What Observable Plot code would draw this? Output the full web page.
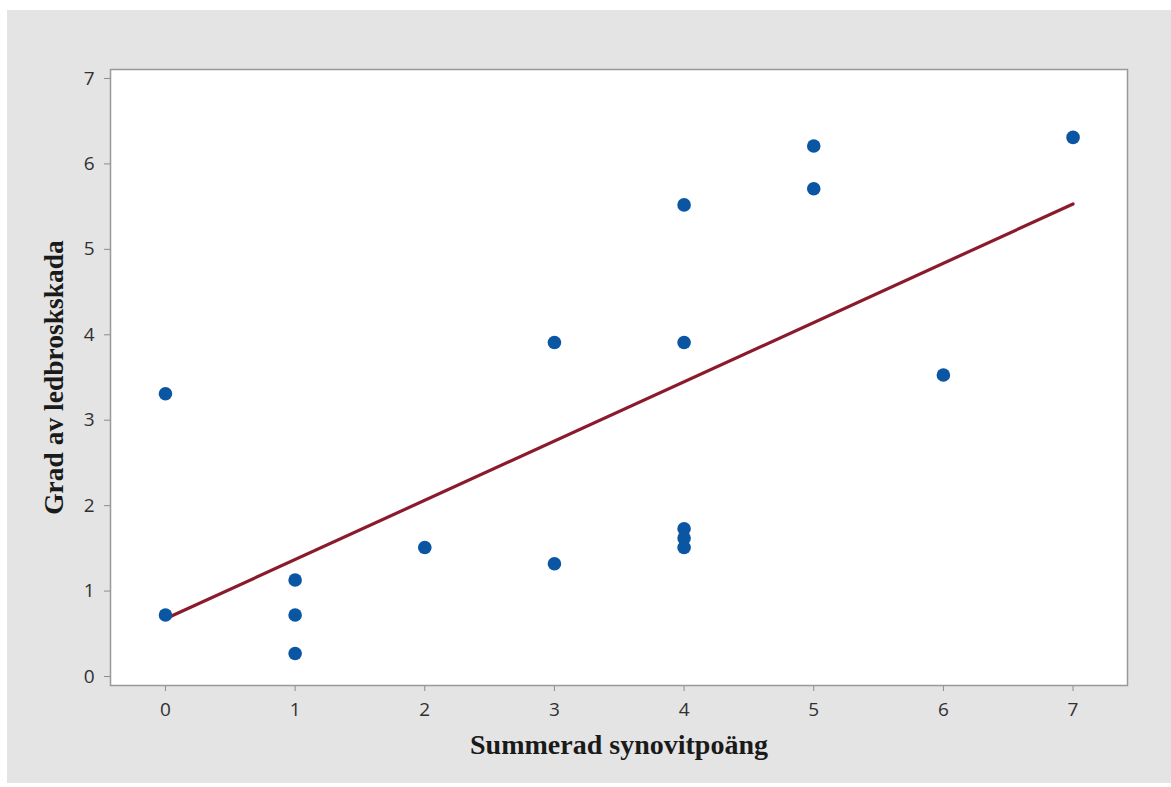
<!DOCTYPE html>
<html>
<head>
<meta charset="utf-8">
<script src="https://cdn.jsdelivr.net/npm/d3@7"></script>
<script src="https://cdn.jsdelivr.net/npm/@observablehq/plot@0.6"></script>
<style>
  html, body { margin: 0; padding: 0; background: #ffffff; }
  #chart { position: absolute; left: 7px; top: 10px; }
</style>
</head>
<body>
<div id="chart"></div>
<script>
// Summed synovitis score (x) and degree of cartilage damage (y)
const synovitScore = [0, 0, 1, 1, 1, 2, 3, 3, 4, 4, 4, 4, 4, 5, 5, 6, 7];
const cartilageGrade = [0.72, 3.31, 0.27, 0.72, 1.13, 1.51, 1.32, 3.91, 1.51, 1.62, 1.73, 3.91, 5.52, 5.71, 6.21, 3.53, 6.31];
const xTicks = [0, 1, 2, 3, 4, 5, 6, 7];
const yTicks = [0, 1, 2, 3, 4, 5, 6, 7];
const xTitle = "Summerad synovitpoäng";
const yTitle = "Grad av ledbroskskada";

const data = synovitScore.map((x, i) => ({x, y: cartilageGrade[i]}));

const chart = Plot.plot({
  width: 1164,
  height: 773,
  marginLeft: 103,
  marginRight: 44,
  marginTop: 59,
  marginBottom: 98,
  style: {background: "#e4e4e4", fontFamily: "'Open Sans', sans-serif"},
  x: {domain: [-0.424, 7.42]},
  y: {domain: [-0.105, 7.105]},
  marks: [
    Plot.frame({fill: "white"}),
    Plot.axisX({ticks: xTicks, tickSize: 6, tickPadding: 11, fontSize: 19, stroke: "#8c8c8c", fill: "#303030", label: null, tickFormat: d3.format("d")}),
    Plot.axisY({ticks: yTicks, tickSize: 6, tickPadding: 10, fontSize: 19, stroke: "#8c8c8c", fill: "#303030", label: null, tickFormat: d3.format("d")}),
    Plot.linearRegressionY(data, {x: "x", y: "y", stroke: "#8b1a2c", strokeWidth: 3.2, ci: 0}),
    Plot.dot(data, {x: "x", y: "y", r: 6.8, fill: "#0b56a3", stroke: null}),
    Plot.frame({stroke: "#999999", strokeWidth: 1.5}),
    Plot.text([xTitle], {frameAnchor: "bottom", dy: 60, lineAnchor: "middle", textAnchor: "middle", fontSize: 28, fontWeight: "bold", fontFamily: "'Liberation Serif', 'Times New Roman', serif", fill: "#1a1a1a"}),
    Plot.text([yTitle], {frameAnchor: "left", dx: -56, rotate: -90, lineAnchor: "middle", textAnchor: "middle", fontSize: 27.5, fontWeight: "bold", fontFamily: "'Liberation Serif', 'Times New Roman', serif", fill: "#1a1a1a"})
  ]
});
document.getElementById("chart").appendChild(chart);
</script>
</body>
</html>
